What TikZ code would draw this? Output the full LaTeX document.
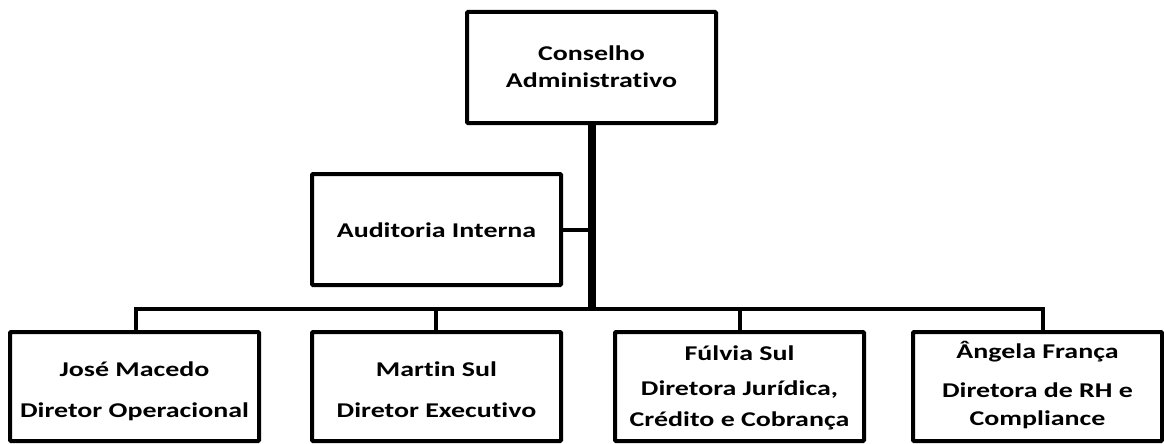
\documentclass[tikz,border=0pt]{standalone}
\usepackage{fontspec}
\newfontfamily\lblfont{Carlito}[FakeStretch=1.33, Ligatures=NoCommon]
\tikzset{
  box/.style={draw=black, line width=4pt, minimum width=249pt, minimum height=109pt,
    inner sep=0pt, outer sep=0pt, rounded corners=1pt},
  tallbox/.style={box, minimum height=111pt},
  lbl/.style={anchor=base, inner sep=0pt, outer sep=0pt, font=\lblfont\fontsize{21}{25}\selectfont\bfseries},
  trunk/.style={draw=black, line width=8pt},
  wire/.style={draw=black, line width=4.5pt, line join=miter},
}
\begin{document}
\begin{tikzpicture}[x=1pt, y=-1pt]
\useasboundingbox (0,0) rectangle (1164,444);
% boxes
\node[tallbox] (top) at (591.5,67.5) {};
\node[tallbox] (aud) at (436.5,229.5) {};
\node[box] (b1) at (134.5,386.5) {};
\node[box] (b2) at (436.5,386.5) {};
\node[box] (b3) at (739.5,386.5) {};
\node[box] (b4) at (1037.5,386.5) {};
% labels
\node[lbl] (t1) at (591.5,60) {Conselho};
\node[lbl] (t2) at (591.5,87) {Administrativo};
\node[lbl] (a1) at (436.5,237) {Auditoria Interna};
\node[lbl] (p1) at (134.5,376) {José Macedo};
\node[lbl] (r1) at (134.5,417) {Diretor Operacional};
\node[lbl] (p2) at (436.5,376) {Martin Sul};
\node[lbl] (r2) at (436.5,417) {Diretor Executivo};
\node[lbl] (p3) at (739.5,360) {Fúlvia Sul};
\node[lbl] (r3a) at (739.5,395) {Diretora Jurídica,};
\node[lbl] (r3b) at (739.5,426) {Crédito e Cobrança};
\node[lbl] (p4) at (1037.5,358) {Ângela França};
\node[lbl] (r4a) at (1037.5,397) {Diretora de RH e};
\node[lbl] (r4b) at (1037.5,425) {Compliance};
% connectors
\coordinate (j) at (591.5,309);
\draw[trunk] (top.south) -- (j);
\draw[wire, line width=4pt] (aud.east) -- (aud.east -| top.south);
\draw[wire] (j) -| ([xshift=1.5pt]b1.north);
\draw[wire] (j) -| ([xshift=-0.5pt]b2.north);
\draw[wire] (j) -| ([xshift=0.5pt]b3.north);
\draw[wire] (j) -| ([xshift=5.5pt]b4.north);
\end{tikzpicture}
\end{document}
